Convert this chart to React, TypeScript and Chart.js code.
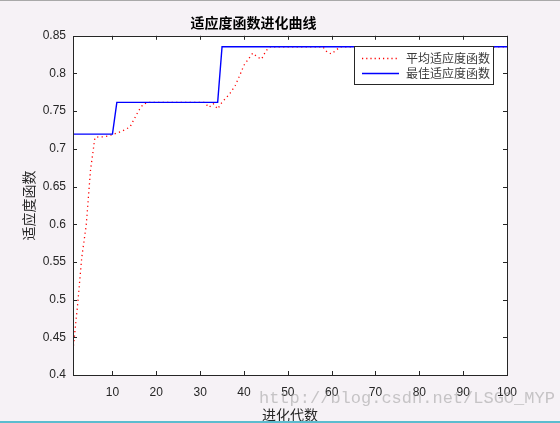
import React, { useEffect, useRef } from "react";
import { Chart, registerables, Plugin } from "chart.js";

Chart.register(...registerables);

// 进化代数 1..100
const generations = [
  1, 2, 3, 4, 5, 6, 7, 8, 9, 10, 11, 12, 13, 14, 15, 16, 17, 18, 19, 20,
  21, 22, 23, 24, 25, 26, 27, 28, 29, 30, 31, 32, 33, 34, 35, 36, 37, 38, 39, 40,
  41, 42, 43, 44, 45, 46, 47, 48, 49, 50, 51, 52, 53, 54, 55, 56, 57, 58, 59, 60,
  61, 62, 63, 64, 65, 66, 67, 68, 69, 70, 71, 72, 73, 74, 75, 76, 77, 78, 79, 80,
  81, 82, 83, 84, 85, 86, 87, 88, 89, 90, 91, 92, 93, 94, 95, 96, 97, 98, 99, 100,
];

// 平均适应度函数
const avgFitness = [
  0.433, 0.49, 0.556, 0.598, 0.672, 0.715, 0.716, 0.716, 0.717, 0.719,
  0.721, 0.723, 0.726, 0.729, 0.74, 0.751, 0.759, 0.7617, 0.7617, 0.7617,
  0.7617, 0.7617, 0.7617, 0.7617, 0.7617, 0.7617, 0.7617, 0.7617, 0.7617, 0.7617,
  0.7617, 0.755, 0.76, 0.753, 0.762, 0.768, 0.775, 0.784, 0.797, 0.811,
  0.819, 0.827, 0.822, 0.819, 0.83, 0.8354, 0.8354, 0.8354, 0.8354, 0.8354,
  0.8354, 0.8354, 0.8354, 0.8354, 0.8354, 0.8354, 0.8354, 0.8354, 0.828, 0.826,
  0.831, 0.8354, 0.8354, 0.8354, 0.8354, 0.8354, 0.8354, 0.8354, 0.8354, 0.8354,
  0.8354, 0.8354, 0.8354, 0.8354, 0.8354, 0.8354, 0.8354, 0.8354, 0.8354, 0.8354,
  0.8354, 0.8354, 0.8354, 0.8354, 0.8354, 0.8354, 0.8354, 0.8354, 0.8354, 0.8354,
  0.8354, 0.8354, 0.8354, 0.8354, 0.8354, 0.8354, 0.8354, 0.8354, 0.8354, 0.8354,
];

// 最佳适应度函数
const bestFitness = [
  0.7195, 0.7195, 0.7195, 0.7195, 0.7195, 0.7195, 0.7195, 0.7195, 0.7195, 0.7195,
  0.7617, 0.7617, 0.7617, 0.7617, 0.7617, 0.7617, 0.7617, 0.7617, 0.7617, 0.7617,
  0.7617, 0.7617, 0.7617, 0.7617, 0.7617, 0.7617, 0.7617, 0.7617, 0.7617, 0.7617,
  0.7617, 0.7617, 0.7617, 0.7617, 0.8354, 0.8354, 0.8354, 0.8354, 0.8354, 0.8354,
  0.8354, 0.8354, 0.8354, 0.8354, 0.8354, 0.8354, 0.8354, 0.8354, 0.8354, 0.8354,
  0.8354, 0.8354, 0.8354, 0.8354, 0.8354, 0.8354, 0.8354, 0.8354, 0.8354, 0.8354,
  0.8354, 0.8354, 0.8354, 0.8354, 0.8354, 0.8354, 0.8354, 0.8354, 0.8354, 0.8354,
  0.8354, 0.8354, 0.8354, 0.8354, 0.8354, 0.8354, 0.8354, 0.8354, 0.8354, 0.8354,
  0.8354, 0.8354, 0.8354, 0.8354, 0.8354, 0.8354, 0.8354, 0.8354, 0.8354, 0.8354,
  0.8354, 0.8354, 0.8354, 0.8354, 0.8354, 0.8354, 0.8354, 0.8354, 0.8354, 0.8354,
];

const xTicks = [10, 20, 30, 40, 50, 60, 70, 80, 90, 100];
const yTicks = [0.4, 0.45, 0.5, 0.55, 0.6, 0.65, 0.7, 0.75, 0.8, 0.85];

const seriesNames = ["平均适应度函数", "最佳适应度函数"];
const chartTitle = "适应度函数进化曲线";
const xTitle = "进化代数";
const yTitle = "适应度函数";

const CJK = '"Noto Sans CJK SC", sans-serif';
const AXIS = '"Liberation Sans", Arial, sans-serif';

// white axes box, inward ticks on all four sides, boxed legend (matlab look)
const matlabAxes: Plugin<"line"> = {
  id: "matlabAxes",
  beforeDatasetsDraw(chart) {
    const { ctx, chartArea: a } = chart;
    ctx.save();
    ctx.fillStyle = "#ffffff";
    ctx.fillRect(a.left, a.top, a.right - a.left, a.bottom - a.top);
    ctx.restore();
  },
  afterDatasetsDraw(chart) {
    const { ctx, chartArea: a, scales } = chart;
    const tl = 4;
    ctx.save();
    ctx.strokeStyle = "#262626";
    ctx.lineWidth = 1;
    ctx.beginPath();
    xTicks.forEach((v) => {
      const px = Math.round(scales.x.getPixelForValue(v)) + 0.5;
      ctx.moveTo(px, a.bottom);
      ctx.lineTo(px, a.bottom - tl);
      ctx.moveTo(px, a.top);
      ctx.lineTo(px, a.top + tl);
    });
    yTicks.forEach((v) => {
      const py = Math.round(scales.y.getPixelForValue(v)) + 0.5;
      ctx.moveTo(a.left, py);
      ctx.lineTo(a.left + tl, py);
      ctx.moveTo(a.right, py);
      ctx.lineTo(a.right - tl, py);
    });
    ctx.stroke();
    ctx.strokeRect(
      Math.round(a.left) + 0.5,
      Math.round(a.top) + 0.5,
      Math.round(a.right - a.left),
      Math.round(a.bottom - a.top)
    );

    // legend box
    const bx = Math.round(a.right) - 153;
    const by = Math.round(a.top) + 10;
    const bw = 139;
    const bh = 38;
    ctx.fillStyle = "#ffffff";
    ctx.fillRect(bx, by, bw, bh);
    ctx.strokeStyle = "#262626";
    ctx.strokeRect(bx + 0.5, by + 0.5, bw, bh);
    const rows = [
      { color: "#ff0000", dash: [1.2, 3], y: by + 12 },
      { color: "#0000ff", dash: [], y: by + 27 },
    ];
    ctx.font = `12px ${CJK}`;
    ctx.textBaseline = "middle";
    rows.forEach((r, i) => {
      ctx.strokeStyle = r.color;
      ctx.lineWidth = i === 0 ? 1.3 : 1.3;
      ctx.setLineDash(r.dash);
      ctx.beginPath();
      ctx.moveTo(bx + 8, r.y + 0.5);
      ctx.lineTo(bx + 45, r.y + 0.5);
      ctx.stroke();
      ctx.setLineDash([]);
      ctx.fillStyle = "#3a3a3a";
      ctx.fillText(seriesNames[i], bx + 52, r.y);
    });
    ctx.restore();
  },
};

const App = () => {
  const chartRef = useRef<HTMLCanvasElement>(null);
  const chartInstanceRef = useRef<Chart | null>(null);

  useEffect(() => {
    if (chartRef.current && !chartInstanceRef.current) {
      const context = chartRef.current.getContext("2d");
      if (context) {
        chartInstanceRef.current = new Chart(context, {
          type: "line",
          data: {
            datasets: [
              {
                label: seriesNames[0],
                data: generations.map((g, i) => ({ x: g, y: avgFitness[i] })),
                borderColor: "#ff0000",
                borderWidth: 1.3,
                borderDash: [1.2, 3.3],
                pointRadius: 0,
                tension: 0,
                order: 1,
              },
              {
                label: seriesNames[1],
                data: generations.map((g, i) => ({ x: g, y: bestFitness[i] })),
                borderColor: "#0000ff",
                borderWidth: 1.4,
                pointRadius: 0,
                tension: 0,
                order: 0,
              },
            ],
          },
          options: {
            responsive: false,
            animation: false,
            events: [],
            layout: {
              padding: { left: 0, right: 53, top: 0, bottom: 0 },
            },
            scales: {
              x: {
                type: "linear",
                min: 1,
                max: 100,
                afterBuildTicks: (scale) => {
                  scale.ticks = xTicks.map((v) => ({ value: v }));
                },
                afterFit: (scale) => {
                  scale.height = 48;
                },
                grid: { display: false, drawTicks: false },
                border: { display: false },
                ticks: {
                  padding: 10,
                  maxRotation: 0,
                  autoSkip: false,
                  color: "#262626",
                  font: { family: AXIS, size: 12 },
                  callback: (v) => String(v),
                },
                title: {
                  display: true,
                  text: xTitle,
                  color: "#262626",
                  font: { family: CJK, size: 14 },
                  padding: { top: 4, bottom: 0 },
                },
              },
              y: {
                type: "linear",
                min: 0.4,
                max: 0.85,
                afterBuildTicks: (scale) => {
                  scale.ticks = yTicks.map((v) => ({ value: v }));
                },
                afterFit: (scale) => {
                  scale.width = 73;
                },
                grid: { display: false, drawTicks: false },
                border: { display: false },
                ticks: {
                  padding: 7,
                  autoSkip: false,
                  color: "#262626",
                  font: { family: AXIS, size: 12 },
                  callback: (v) => String(Math.round(Number(v) * 100) / 100),
                },
                title: {
                  display: true,
                  text: yTitle,
                  color: "#262626",
                  font: { family: CJK, size: 14 },
                  padding: { top: 20, bottom: 0 },
                },
              },
            },
            plugins: {
              legend: { display: false },
              tooltip: { enabled: false },
              title: {
                display: true,
                text: chartTitle,
                color: "#000000",
                font: { family: CJK, size: 14, weight: "bold" },
                padding: { top: 14, bottom: 5 },
              },
            },
          },
          plugins: [matlabAxes],
        });
      }
    }
    return () => {
      if (chartInstanceRef.current) {
        chartInstanceRef.current.destroy();
        chartInstanceRef.current = null;
      }
    };
  }, []);

  return (
    <div
      style={{
        position: "fixed",
        left: 0,
        top: 0,
        width: 560,
        height: 423,
        background: "#f6f2f6",
        overflow: "hidden",
      }}
    >
      <canvas ref={chartRef} width={560} height={423} style={{ display: "block" }} />
      <div
        style={{
          position: "absolute",
          left: 259,
          top: 389,
          fontFamily: '"Liberation Mono", monospace',
          fontSize: 17,
          color: "rgba(150,150,150,0.5)",
          whiteSpace: "nowrap",
          pointerEvents: "none",
        }}
      >
        http://blog.csdn.net/LSGO_MYP
      </div>
      <div style={{ position: "absolute", left: 0, top: 0, width: 560, height: 1, background: "#a9a9a9" }} />
      <div style={{ position: "absolute", left: 0, top: 421, width: 560, height: 2, background: "#5bbccf" }} />
    </div>
  );
};

export default App;
